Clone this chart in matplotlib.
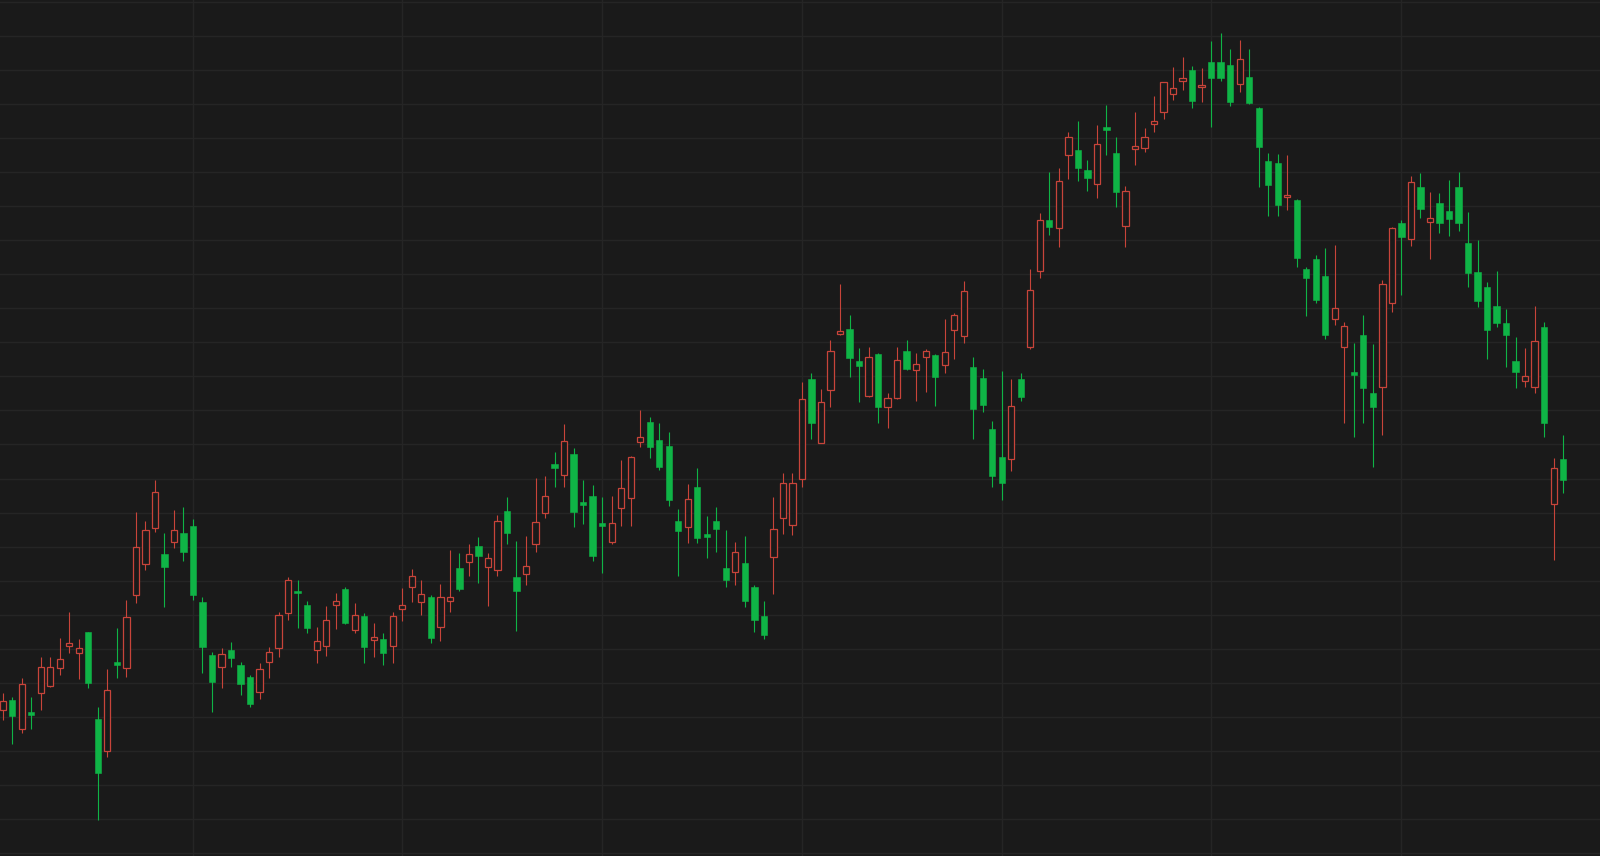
import numpy as np
import matplotlib
matplotlib.use("Agg")
import matplotlib.pyplot as plt

# daily candles, values (arbitrary price units)
opens = [14.6, 15.6, 12.7, 14.4, 16.3, 17.0, 18.8, 21.0, 20.3, 22.4,
         13.7, 10.5, 19.4, 18.8, 26.1, 29.2, 32.8, 30.2, 31.4, 32.3,
         33.0, 25.4, 20.1, 18.9, 20.6, 19.1, 17.9, 16.4, 19.4, 20.8,
         24.3, 26.5, 25.1, 20.6, 21.0, 25.1, 26.7, 22.6, 24.0, 21.6,
         21.7, 21.0, 24.7, 26.9, 25.4, 25.9, 22.9, 25.5, 28.8, 29.4,
         31.0, 28.9, 28.6, 34.5, 27.9, 28.2, 31.2, 34.3, 39.2, 38.1,
         40.2, 35.4, 36.0, 33.3, 31.4, 34.8, 35.8, 41.4, 43.4, 41.6,
         41.0, 33.5, 32.9, 36.9, 32.2, 33.5, 28.8, 28.4, 29.3, 26.9,
         24.0, 29.9, 33.8, 33.1, 37.7, 47.7, 41.3, 46.6, 52.2, 52.7,
         49.5, 46.0, 50.2, 44.9, 45.8, 50.5, 48.6, 49.9, 50.1, 49.1,
         52.6, 52.0, 48.9, 47.8, 42.7, 39.9, 39.7, 47.7, 50.9, 58.5,
         63.6, 62.8, 70.1, 70.6, 68.6, 67.2, 72.9, 70.3, 63.0, 70.7,
         70.8, 73.2, 74.4, 76.2, 77.5, 78.6, 76.9, 79.4, 79.4, 79.1,
         77.2, 77.9, 74.8, 69.5, 69.3, 65.9, 65.6, 58.7, 59.7, 58.0,
         53.7, 50.9, 48.4, 52.1, 46.3, 46.9, 55.3, 63.3, 61.7, 66.9,
         63.4, 65.3, 64.5, 66.9, 61.3, 58.4, 56.9, 55.0, 53.3, 49.5,
         47.5, 46.9, 52.9, 35.2, 39.7]

highs = [16.3, 15.9, 17.8, 15.9, 19.9, 19.9, 21.8, 24.4, 21.7, 22.4,
         14.9, 18.7, 22.8, 25.6, 34.4, 33.5, 37.6, 32.3, 34.6, 34.9,
         33.7, 25.9, 20.4, 20.8, 21.4, 19.4, 18.1, 19.3, 20.9, 24.4,
         27.9, 27.6, 25.5, 22.9, 25.0, 26.3, 26.9, 25.3, 24.3, 23.3,
         22.3, 24.4, 26.8, 28.7, 27.6, 26.1, 27.2, 30.6, 30.3, 31.2,
         31.9, 30.3, 34.1, 35.9, 31.5, 32.0, 37.8, 38.0, 40.4, 43.2,
         40.8, 37.6, 37.1, 35.9, 36.0, 39.6, 40.0, 44.6, 43.9, 43.3,
         42.4, 34.7, 37.2, 38.8, 34.0, 34.9, 32.6, 31.4, 32.0, 27.1,
         25.5, 35.9, 38.3, 38.3, 47.4, 48.3, 46.7, 51.6, 57.2, 54.1,
         50.8, 50.9, 50.3, 46.3, 50.9, 51.6, 50.3, 50.7, 50.2, 53.7,
         54.3, 57.5, 49.9, 48.7, 43.5, 48.5, 47.7, 48.3, 58.7, 64.3,
         68.4, 68.8, 72.4, 73.5, 69.6, 73.1, 75.1, 71.9, 67.0, 74.4,
         72.8, 76.0, 77.4, 78.9, 79.9, 79.0, 78.8, 81.5, 82.3, 80.7,
         81.6, 80.7, 74.9, 70.3, 70.2, 70.1, 65.7, 58.9, 60.1, 60.8,
         61.1, 53.4, 51.3, 54.1, 51.2, 57.6, 62.9, 63.6, 68.0, 68.3,
         66.4, 66.3, 67.6, 68.4, 64.4, 61.6, 57.4, 58.5, 54.7, 51.9,
         50.8, 55.0, 53.4, 39.8, 42.1]

lows = [13.6, 11.2, 12.3, 12.7, 14.6, 16.9, 18.1, 20.3, 17.7, 16.8,
        3.6, 9.9, 17.8, 17.9, 25.3, 28.6, 32.4, 24.9, 30.8, 29.5,
        25.6, 18.3, 14.4, 16.8, 18.9, 16.1, 14.9, 15.7, 17.8, 19.9,
        23.6, 22.8, 22.3, 19.3, 20.0, 22.7, 23.2, 22.3, 19.3, 19.9,
        19.1, 19.3, 23.5, 25.4, 24.1, 21.3, 21.5, 24.4, 26.5, 28.0,
        27.3, 25.0, 28.0, 31.2, 22.5, 27.1, 30.4, 33.8, 36.9, 36.9,
        32.9, 33.2, 29.5, 28.3, 31.2, 33.0, 33.0, 40.9, 39.8, 38.6,
        35.0, 28.0, 31.3, 31.3, 29.8, 30.4, 26.9, 27.1, 24.9, 22.4,
        21.7, 26.2, 32.2, 32.1, 36.9, 41.7, 41.3, 44.9, 52.1, 47.9,
        45.4, 45.9, 43.3, 42.8, 45.7, 48.6, 45.5, 46.4, 45.0, 48.3,
        49.7, 51.3, 41.7, 44.4, 36.9, 35.6, 38.5, 45.5, 50.7, 57.8,
        62.1, 60.9, 67.7, 67.5, 66.5, 65.8, 70.1, 64.9, 60.9, 69.1,
        70.4, 72.4, 73.7, 75.6, 76.6, 74.8, 75.4, 72.9, 77.5, 75.0,
        76.4, 75.2, 66.9, 64.0, 64.0, 64.6, 58.9, 54.0, 55.3, 51.7,
        53.1, 43.3, 41.9, 43.3, 38.9, 42.1, 54.4, 56.1, 61.0, 63.8,
        59.7, 62.3, 62.0, 62.5, 56.9, 54.9, 49.7, 52.9, 48.9, 46.8,
        46.9, 46.3, 41.9, 29.6, 36.3]

closes = [15.5, 14.0, 17.2, 14.1, 18.9, 18.9, 19.7, 21.3, 20.8, 17.3,
          8.3, 16.6, 19.1, 23.9, 30.9, 32.6, 36.4, 28.9, 32.6, 30.4,
          26.1, 20.9, 17.4, 20.2, 19.8, 17.2, 15.2, 18.7, 20.4, 24.1,
          27.6, 26.3, 22.8, 21.5, 23.6, 25.5, 23.3, 24.1, 20.9, 21.9,
          20.3, 24.0, 25.1, 28.0, 26.2, 21.8, 25.9, 25.9, 26.7, 30.2,
          30.0, 29.8, 33.5, 32.3, 26.5, 29.0, 33.4, 36.0, 38.8, 41.5,
          34.4, 35.1, 30.0, 33.0, 33.3, 36.8, 39.9, 41.9, 40.9, 38.9,
          35.6, 32.5, 35.7, 31.8, 31.9, 32.7, 27.6, 30.4, 25.5, 23.6,
          22.1, 32.7, 37.3, 37.3, 45.7, 43.3, 45.4, 50.5, 52.5, 49.8,
          49.0, 49.9, 44.9, 45.8, 49.6, 48.7, 49.2, 50.5, 47.9, 50.4,
          54.1, 56.5, 44.7, 45.1, 38.0, 37.3, 45.0, 45.9, 56.6, 63.6,
          62.9, 67.5, 71.9, 68.8, 67.8, 71.2, 72.6, 66.4, 66.5, 71.0,
          71.9, 73.5, 77.4, 76.8, 77.8, 75.5, 77.0, 77.8, 77.8, 75.4,
          79.7, 75.3, 70.9, 67.1, 65.1, 66.0, 59.8, 57.8, 55.6, 52.1,
          54.8, 53.0, 48.1, 46.8, 44.9, 57.2, 62.8, 61.9, 67.4, 64.7,
          63.8, 63.3, 63.7, 63.3, 58.3, 55.5, 52.6, 53.3, 52.1, 48.4,
          48.0, 51.5, 43.3, 38.8, 37.6]

# month boundaries (candle index) used for the vertical grid
month_starts = [20, 42, 63, 84, 105, 127, 147]

bg = "#1a1a1a"
grid_col = "#252525"
up_col = "#c8443a"
down_col = "#0fb446"

o = np.array(opens)
h = np.array(highs)
l = np.array(lows)
c = np.array(closes)
x = np.arange(len(o))
up = c >= o

fig = plt.figure(figsize=(16, 8.56), dpi=100, facecolor=bg)
ax = fig.add_axes([0, 0, 1, 1])
ax.set_facecolor(bg)

# wicks
ax.vlines(x[up], l[up], h[up], color=up_col, lw=0.8, zorder=2)
ax.vlines(x[~up], l[~up], h[~up], color=down_col, lw=0.8, zorder=2)

# bodies: hollow red for up days, solid green for down days
w = 0.66
ax.bar(x[up], np.maximum(c[up] - o[up], 0.15), bottom=o[up], width=w,
       facecolor=bg, edgecolor=up_col, linewidth=0.9, zorder=3)
ax.bar(x[~up], np.maximum(o[~up] - c[~up], 0.25), bottom=c[~up], width=w,
       facecolor=down_col, edgecolor=down_col, linewidth=0.4, zorder=3)

ax.set_xlim(-0.28, 167.87)
ax.set_ylim(0, 85.6)
ax.set_yticks(np.arange(0.27, 86, 3.407))
ax.set_xticks(month_starts)
ax.grid(True, color=grid_col, lw=1.0, zorder=0)
ax.tick_params(length=0, labelleft=False, labelbottom=False)
for s in ax.spines.values():
    s.set_visible(False)

fig.savefig("out.png", dpi=100, facecolor=bg)
